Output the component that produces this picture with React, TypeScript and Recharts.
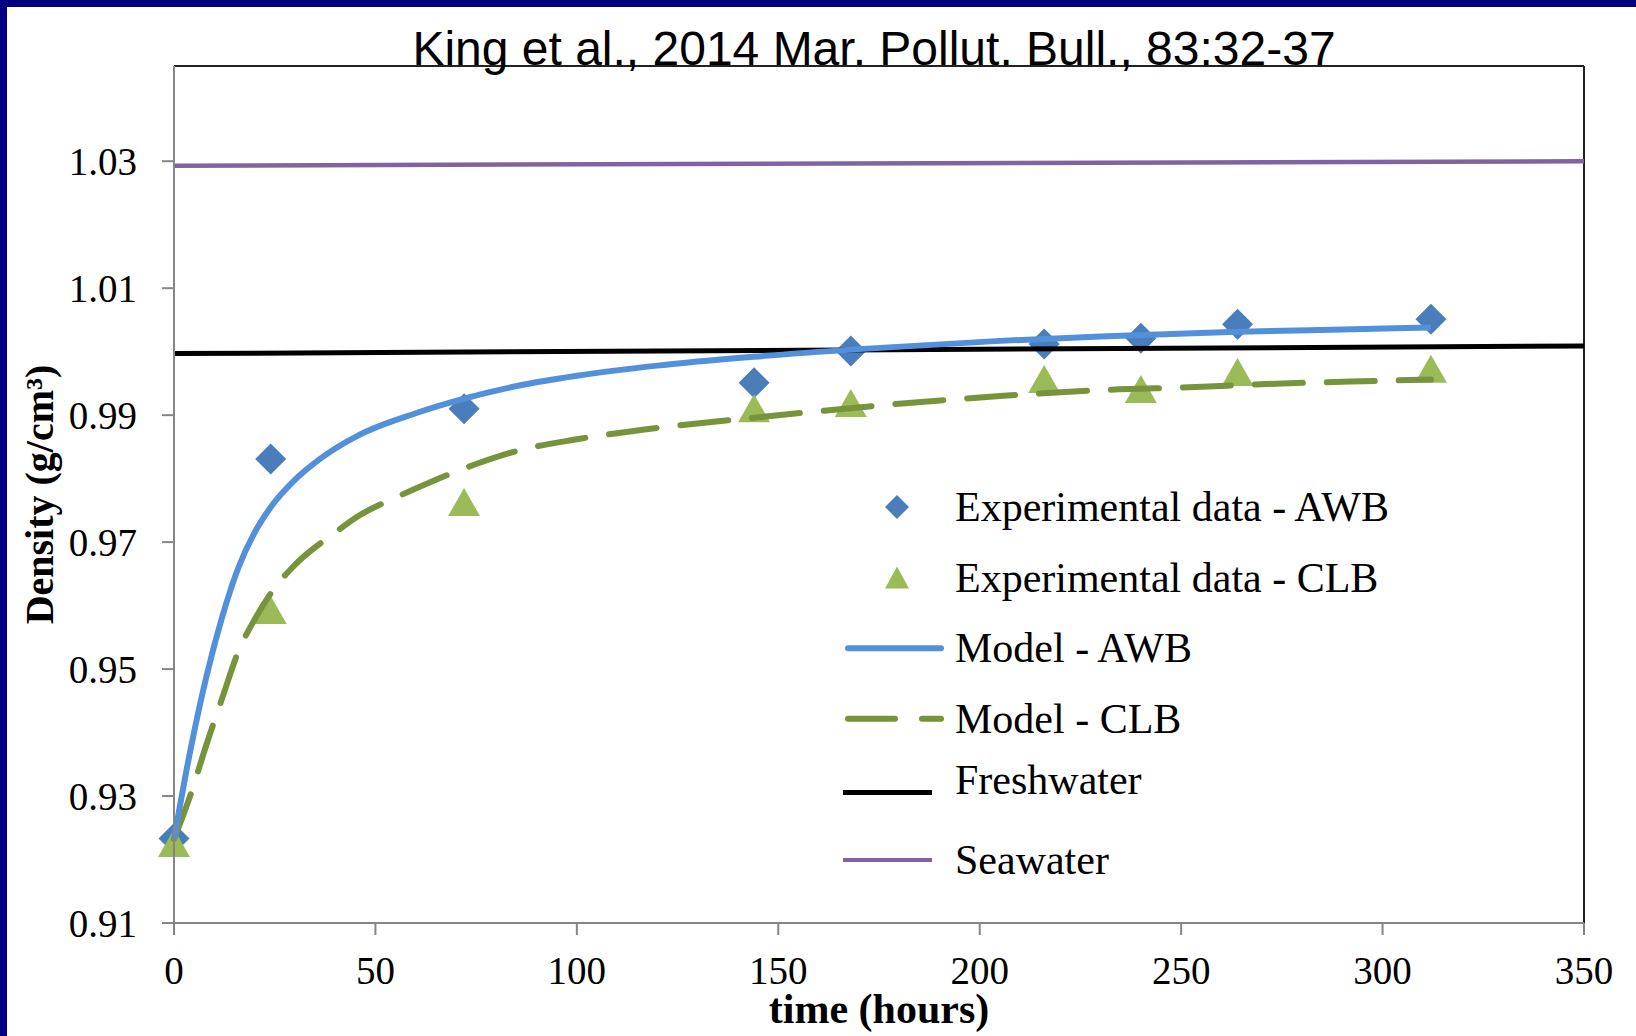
import React from 'react';
import {
  ComposedChart,
  Line,
  Scatter,
  XAxis,
  YAxis,
  Legend,
  ReferenceLine
} from 'recharts';

// experimental sampling times (hours) and measured densities (g/cm3)
const EXP_HOURS = [0, 24, 72, 144, 168, 216, 240, 264, 312];
const EXP_AWB = [0.9233, 0.9831, 0.991, 0.9951, 1.0001, 1.0012, 1.0021, 1.0043, 1.0051];
const EXP_CLB = [0.9226, 0.9593, 0.9763, 0.9911, 0.9919, 0.9957, 0.9941, 0.9968, 0.9973];

// model curves
const MODEL_AWB_HOURS = [0, 4, 8, 12, 16, 20, 24, 30, 36, 46, 60, 72, 86, 100, 120, 144, 170, 205, 230, 262, 290, 312];
const MODEL_AWB = [0.9232, 0.937, 0.9487, 0.9583, 0.966, 0.9715, 0.9755, 0.9798, 0.983, 0.9869, 0.9903, 0.9926, 0.9947, 0.9962, 0.9978, 0.9992, 1.0004, 1.0017, 1.0024, 1.0031, 1.0035, 1.0038];
const MODEL_CLB_HOURS = [0, 4, 8, 12, 16, 20, 25, 30, 40, 45, 56, 62, 75, 86, 100, 120, 144, 180, 205, 232, 252, 271, 292, 312];
const MODEL_CLB = [0.9232, 0.93, 0.938, 0.9455, 0.9528, 0.9578, 0.9628, 0.9664, 0.9715, 0.9738, 0.9773, 0.979, 0.9823, 0.9845, 0.9862, 0.988, 0.9896, 0.9918, 0.993, 0.994, 0.9944, 0.9949, 0.9953, 0.9956];

// reference densities
const REF_HOURS = [0, 350];
const FRESHWATER = [0.9997, 1.0009];
const SEAWATER = [1.0293, 1.03];

const X_TICKS = [0, 50, 100, 150, 200, 250, 300, 350];
const Y_TICKS = [0.91, 0.93, 0.95, 0.97, 0.99, 1.01, 1.03];
const Y_MAX = 1.045;

const LEGEND_LABELS = [
  'Experimental data - AWB',
  'Experimental data - CLB',
  'Model - AWB',
  'Model - CLB',
  'Freshwater',
  'Seawater'
];

const COLORS = {
  awbMarker: '#4A7EBB',
  awbLine: '#5290DB',
  clbMarker: '#9BBB59',
  clbLine: '#77933C',
  fresh: '#000000',
  sea: '#8064A2',
  axis: '#868686'
};

const toPoints = (xs: number[], ys: number[]) => xs.map((x, i) => ({ x, y: ys[i] }));

const awbExp = toPoints(EXP_HOURS, EXP_AWB);
const clbExp = toPoints(EXP_HOURS, EXP_CLB);
const awbModel = toPoints(MODEL_AWB_HOURS, MODEL_AWB);
const clbModel = toPoints(MODEL_CLB_HOURS, MODEL_CLB);
const freshLine = toPoints(REF_HOURS, FRESHWATER);
const seaLine = toPoints(REF_HOURS, SEAWATER);

const SERIF = '"Liberation Serif", "Times New Roman", serif';

const DiamondShape = (props: any) => {
  const { cx, cy } = props;
  const r = 15.5;
  return <path d={`M${cx},${cy - r}L${cx + r},${cy}L${cx},${cy + r}L${cx - r},${cy}Z`} fill={COLORS.awbMarker} />;
};

const TriangleShape = (props: any) => {
  const { cx, cy } = props;
  return <path d={`M${cx},${cy - 14}L${cx + 16},${cy + 14}L${cx - 16},${cy + 14}Z`} fill={COLORS.clbMarker} />;
};

const YLabel = (props: any) => {
  const { viewBox } = props;
  const cx = viewBox.x + 53;
  const cy = viewBox.y + viewBox.height / 2;
  return (
    <text
      x={cx}
      y={cy}
      transform={`rotate(-90 ${cx} ${cy})`}
      textAnchor="middle"
      fontFamily={SERIF}
      fontWeight="bold"
      fontSize={40}
      fill="#000"
    >
      Density (g/cm³)
    </text>
  );
};

const XLabel = (props: any) => {
  const { viewBox } = props;
  return (
    <text
      x={viewBox.x + viewBox.width / 2}
      y={viewBox.y + 100}
      textAnchor="middle"
      fontFamily={SERIF}
      fontWeight="bold"
      fontSize={42}
      fill="#000"
    >
      time (hours)
    </text>
  );
};

const LegendContent = () => {
  const rowH = 70.6;
  return (
    <svg width={560} height={430} style={{ overflow: 'visible' }}>
      {LEGEND_LABELS.map((label, i) => {
        const cy = 35 + i * rowH;
        let icon: JSX.Element | null = null;
        let textY = cy;
        if (i === 0) {
          icon = <path d={`M57,${cy - 12}L69,${cy}L57,${cy + 12}L45,${cy}Z`} fill={COLORS.awbMarker} />;
        } else if (i === 1) {
          icon = <path d={`M57,${cy - 11}L69,${cy + 11}L45,${cy + 11}Z`} fill={COLORS.clbMarker} />;
        } else if (i === 2) {
          icon = <line x1={8} x2={101} y1={cy} y2={cy} stroke={COLORS.awbLine} strokeWidth={6} strokeLinecap="round" />;
        } else if (i === 3) {
          icon = (
            <line x1={8} x2={101} y1={cy} y2={cy} stroke={COLORS.clbLine} strokeWidth={6}
              strokeLinecap="round" strokeDasharray="47 27" />
          );
        } else if (i === 4) {
          textY = cy - 9;
          icon = <line x1={3} x2={92} y1={cy + 3} y2={cy + 3} stroke={COLORS.fresh} strokeWidth={5} />;
        } else {
          icon = <line x1={3} x2={92} y1={cy} y2={cy} stroke={COLORS.sea} strokeWidth={4} />;
        }
        return (
          <g key={label}>
            {icon}
            <text x={115} y={textY} dominantBaseline="central" fontFamily={SERIF} fontSize={42} fill="#000">
              {label}
            </text>
          </g>
        );
      })}
    </svg>
  );
};

export default function App() {
  return (
    <div
      style={{
        position: 'relative',
        width: 1636,
        height: 1036,
        background: '#fff',
        overflow: 'hidden'
      }}
    >
      <style>{'body{margin:0}'}</style>
      <ComposedChart
        width={1636}
        height={1036}
        margin={{ top: 66, right: 52, bottom: 0, left: 0 }}
      >
        <XAxis
          type="number"
          dataKey="x"
          domain={[0, 350]}
          ticks={X_TICKS}
          interval={0}
          height={113}
          stroke={COLORS.axis}
          strokeWidth={2}
          tickSize={12}
          tickMargin={21}
          tick={{ fill: '#000', fontSize: 39, fontFamily: SERIF }}
          label={<XLabel />}
        />
        <YAxis
          type="number"
          dataKey="y"
          domain={[0.91, Y_MAX]}
          ticks={Y_TICKS}
          interval={0}
          width={174}
          stroke={COLORS.axis}
          strokeWidth={2}
          tickSize={12}
          tickMargin={25}
          tickFormatter={(v: number) => v.toFixed(2)}
          tick={{ fill: '#000', fontSize: 39, fontFamily: SERIF }}
          label={<YLabel />}
        />
        <ReferenceLine y={Y_MAX} stroke="#222" strokeWidth={2} />
        <ReferenceLine x={350} stroke="#222" strokeWidth={2} />
        <Scatter name="Experimental data - AWB" data={awbExp} dataKey="y" shape={<DiamondShape />} isAnimationActive={false} zIndex={350} />
        <Scatter name="Experimental data - CLB" data={clbExp} dataKey="y" shape={<TriangleShape />} isAnimationActive={false} zIndex={350} />
        <Line name="Seawater" data={seaLine} dataKey="y" type="linear" stroke={COLORS.sea} strokeWidth={4.5} dot={false} activeDot={false} isAnimationActive={false} />
        <Line name="Freshwater" data={freshLine} dataKey="y" type="linear" stroke={COLORS.fresh} strokeWidth={5} dot={false} activeDot={false} isAnimationActive={false} />
        <Line name="Model - CLB" data={clbModel} dataKey="y" type="monotone" stroke={COLORS.clbLine} strokeWidth={6}
          strokeDasharray="48 24" strokeLinecap="round" dot={false} activeDot={false} isAnimationActive={false} />
        <Line name="Model - AWB" data={awbModel} dataKey="y" type="monotone" stroke={COLORS.awbLine} strokeWidth={6}
          dot={false} activeDot={false} isAnimationActive={false} />
        <Legend
          layout="vertical"
          align="center"
          verticalAlign="middle"
          content={<LegendContent />}
          wrapperStyle={{ left: 840, top: 472, width: 560, height: 430 }}
        />
      </ComposedChart>
      <svg width={1636} height={1036} style={{ position: 'absolute', left: 0, top: 0, pointerEvents: 'none' }}>
        <text x={874} y={65} textAnchor="middle" fontFamily='"Liberation Sans", Arial, sans-serif' fontSize={48} fill="#000">
          King et al., 2014 Mar. Pollut. Bull., 83:32-37
        </text>
        <rect x={0} y={0} width={1636} height={7} fill="#000080" />
        <rect x={0} y={0} width={7} height={1036} fill="#000080" />
      </svg>
    </div>
  );
}
